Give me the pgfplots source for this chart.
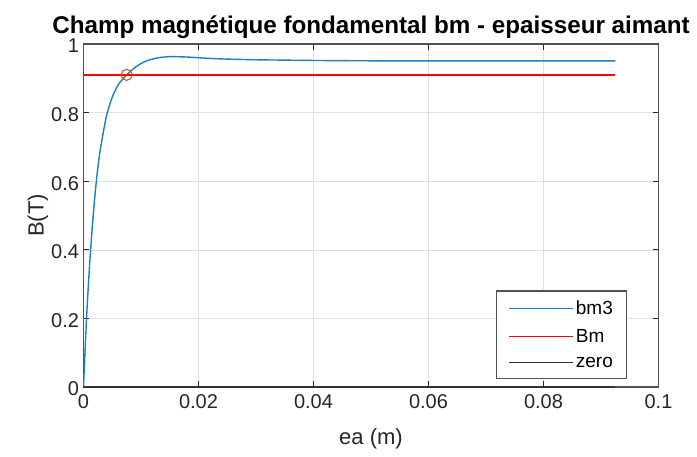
\documentclass[border=0pt]{standalone}
\usepackage{pgfplots}
\pgfplotsset{compat=1.18}
\usepackage{fontspec}
\setmainfont{Liberation Sans}
\definecolor{mblue}{rgb}{0.1,0.5,0.78}
\definecolor{morange}{rgb}{0.85,0.325,0.098}
\definecolor{axgray}{rgb}{0.15,0.15,0.15}
\begin{document}
\begin{tikzpicture}[x=1pt,y=1pt]
\useasboundingbox (-83.5,-69) rectangle (613.5,387);
\begin{axis}[
  at={(0,0)}, anchor=south west,
  scale only axis, width=575pt, height=343pt,
  xmin=0, xmax=0.1, ymin=0, ymax=1,
  xtick={0,0.02,0.04,0.06,0.08,0.1},
  xticklabels={0,0.02,0.04,0.06,0.08,0.1},
  ytick={0,0.2,0.4,0.6,0.8,1},
  yticklabels={0,0.2,0.4,0.6,0.8,1},
  scaled x ticks=false,
  tick align=inside, tick pos=both,
  major tick length=6pt,
  grid=major,
  major grid style={draw=black!12, line width=0.6pt},
  axis line style={draw=axgray!80, line width=1.3pt},
  every tick/.style={draw=axgray, line width=0.9pt},
  tick label style={font=\fontsize{20}{24}\selectfont, text=axgray},
  xticklabel style={yshift=-4pt},
  yticklabel style={xshift=-1pt, yshift=-2pt},
  xlabel={ea (m)}, ylabel={B(T)},
  label style={font=\fontsize{22}{26}\selectfont, text=axgray},
  xlabel style={yshift=-13pt},
  ylabel style={yshift=-4pt},
  title={Champ magnétique fondamental bm - epaisseur aimant},
  title style={font=\bfseries\fontsize{24.2}{28}\selectfont, yshift=-4pt},
  legend style={at={(rel axis cs:0.946,0.023)}, anchor=south east,
    draw=axgray!80, line width=1.2pt, font=\fontsize{19}{22}\selectfont,
    row sep=9pt, inner xsep=12pt, inner ysep=8pt, cells={anchor=west}},
  legend cell align=left,
  legend image code/.code={\draw[mark repeat=2,mark phase=2,#1]
    plot coordinates {(0pt,0pt) (32pt,0pt) (64pt,0pt)};},
]
% B(ea) curve
\addplot[mblue, line width=1.4pt, smooth, forget plot] coordinates {
 (0,0) (0.0005,0.19) (0.001,0.34) (0.0015,0.46) (0.002,0.56)
 (0.0025,0.64) (0.003,0.70) (0.004,0.79) (0.005,0.845) (0.006,0.880)
 (0.007,0.901) (0.0075,0.910) (0.008,0.918) (0.009,0.932) (0.010,0.943)
 (0.011,0.951) (0.012,0.956) (0.013,0.960) (0.014,0.962) (0.015,0.963)
 (0.016,0.963) (0.018,0.962) (0.020,0.960) (0.022,0.958) (0.025,0.956)
 (0.030,0.954) (0.035,0.953) (0.040,0.952) (0.050,0.951) (0.060,0.951)
 (0.070,0.951) (0.080,0.951) (0.0925,0.951)
};
% target level Bm
\addplot[red, line width=1.4pt, forget plot] coordinates {(0,0.91) (0.0925,0.91)};
% zero line
\addplot[black!80, line width=1.4pt, forget plot] coordinates {(0,0) (0.0925,0)};
% operating point
\addplot[only marks, mark=o, mark size=5.5pt, morange, mark options={line width=1.1pt}, forget plot]
  coordinates {(0.0075,0.91)};
\addlegendimage{draw=mblue, line width=1.4pt}
\addlegendentry{bm3}
\addlegendimage{draw=red, line width=1.4pt}
\addlegendentry{Bm}
\addlegendimage{draw=black!80, line width=1.4pt}
\addlegendentry{zero}
\end{axis}
\end{tikzpicture}
\end{document}
